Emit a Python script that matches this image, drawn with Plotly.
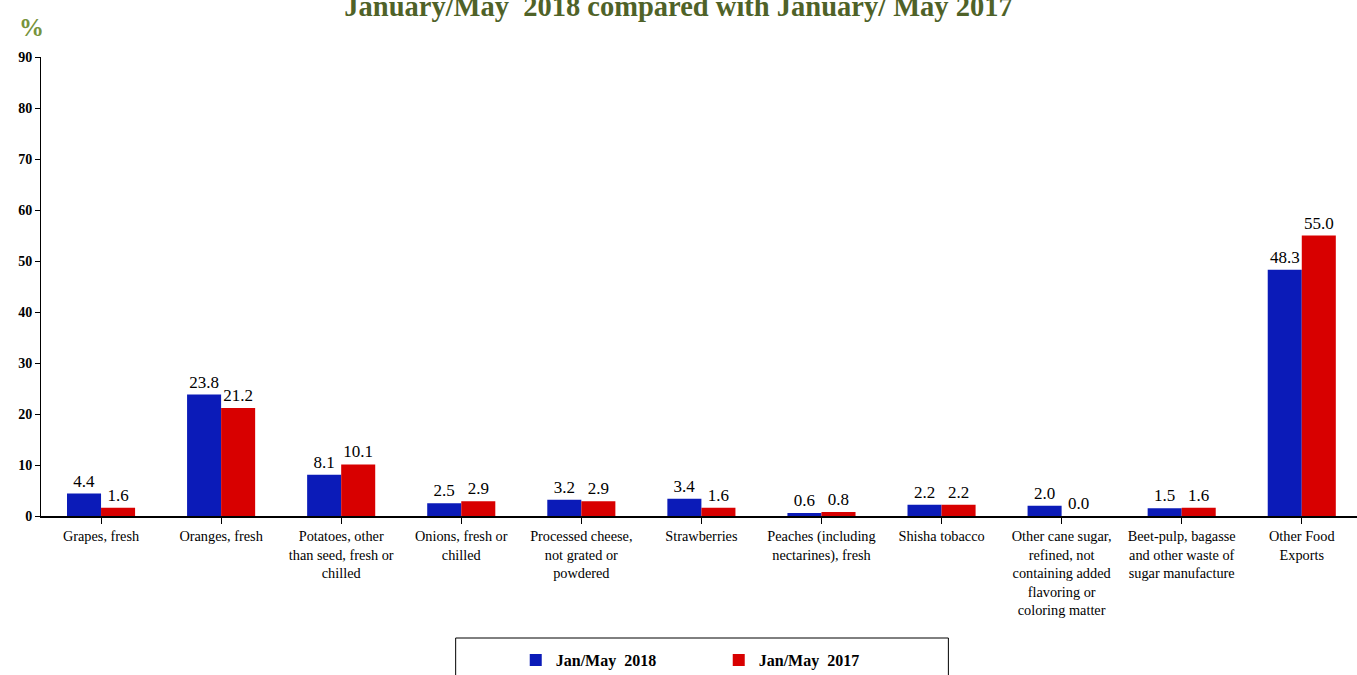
import plotly.graph_objects as go

categories = [
    "Grapes, fresh",
    "Oranges, fresh",
    "Potatoes, other<br>than seed, fresh or<br>chilled",
    "Onions, fresh or<br>chilled",
    "Processed cheese,<br>not grated or<br>powdered",
    "Strawberries",
    "Peaches (including<br>nectarines), fresh",
    "Shisha tobacco",
    "Other cane sugar,<br>refined, not<br>containing added<br>flavoring or<br>coloring matter",
    "Beet-pulp, bagasse<br>and other waste of<br>sugar manufacture",
    "Other Food<br>Exports",
]
jan_may_2018 = [4.4, 23.8, 8.1, 2.5, 3.2, 3.4, 0.6, 2.2, 2.0, 1.5, 48.3]
jan_may_2017 = [1.6, 21.2, 10.1, 2.9, 2.9, 1.6, 0.8, 2.2, 0.0, 1.6, 55.0]
y_ticks = [0, 10, 20, 30, 40, 50, 60, 70, 80, 90]

SERIF = "Times New Roman, Liberation Serif, serif"
x_idx = list(range(len(categories)))

fig = go.Figure()
fig.add_trace(go.Bar(
    x=x_idx, y=jan_may_2018, name="Jan/May  2018",
    marker=dict(color="#0B1BB8", line=dict(width=0)),
    text=[f"{v:.1f}" for v in jan_may_2018], textposition="outside",
    textfont=dict(family=SERIF, size=17, color="black"), cliponaxis=False,
))
fig.add_trace(go.Bar(
    x=x_idx, y=jan_may_2017, name="Jan/May  2017",
    marker=dict(color="#D80000", line=dict(width=0)),
    text=[f"{v:.1f}" for v in jan_may_2017], textposition="outside",
    textfont=dict(family=SERIF, size=17, color="black"), cliponaxis=False,
))

fig.update_layout(
    width=1357, height=675,
    margin=dict(l=41, r=0, t=57, b=159, autoexpand=False),
    paper_bgcolor="white", plot_bgcolor="white",
    barmode="group", bargap=0.433, bargroupgap=0,
    font=dict(family=SERIF, color="black"),
    title=dict(
        text="January/May  2018 compared with January/ May 2017",
        x=0.5, xref="container", xanchor="center",
        y=1 - 6 / 675, yref="container", yanchor="middle",
        font=dict(family=SERIF, size=28.5, color="#4F6228", weight="bold"),
    ),
    xaxis=dict(
        tickmode="array", tickvals=x_idx, ticktext=categories,
        range=[-0.5, 10.46], showline=True, linecolor="black", linewidth=1.5,
        ticks="outside", ticklen=6, tickcolor="black", tickson="boundaries",
        tickfont=dict(family=SERIF, size=14.3, color="black"),
        showgrid=False, zeroline=False, automargin=False,
    ),
    yaxis=dict(
        range=[0, 90], tickvals=y_ticks, showline=True, linecolor="black", linewidth=1,
        ticks="outside", ticklen=5, tickcolor="black",
        tickfont=dict(family=SERIF, size=14, color="black", weight="bold"),
        showgrid=False, zeroline=False, automargin=False,
    ),
    legend=dict(
        orientation="h", x=0.515, xanchor="center", y=-0.314, yanchor="middle",
        xref="paper", yref="paper",
        font=dict(family=SERIF, size=16, color="black", weight="bold"),
        entrywidth=158, bgcolor="rgba(0,0,0,0)", borderwidth=0,
        itemwidth=30, tracegroupgap=0,
    ),
    shapes=[dict(
        type="rect", xref="paper", yref="paper",
        x0=0.3151, x1=0.6895, y0=-0.36, y1=-0.2658,
        line=dict(color="black", width=1), fillcolor="rgba(0,0,0,0)",
    )],
    annotations=[dict(
        text="%", xref="paper", yref="paper", x=-0.007, y=(516 - 27) / 459,
        xanchor="center", yanchor="middle", showarrow=False,
        font=dict(family=SERIF, size=25, color="#77933C", weight="bold"),
    )],
)

fig.write_html(
    "out.html",
    config={"displayModeBar": False},
    post_script="document.body.style.margin='0';document.body.style.overflow='hidden';",
)
